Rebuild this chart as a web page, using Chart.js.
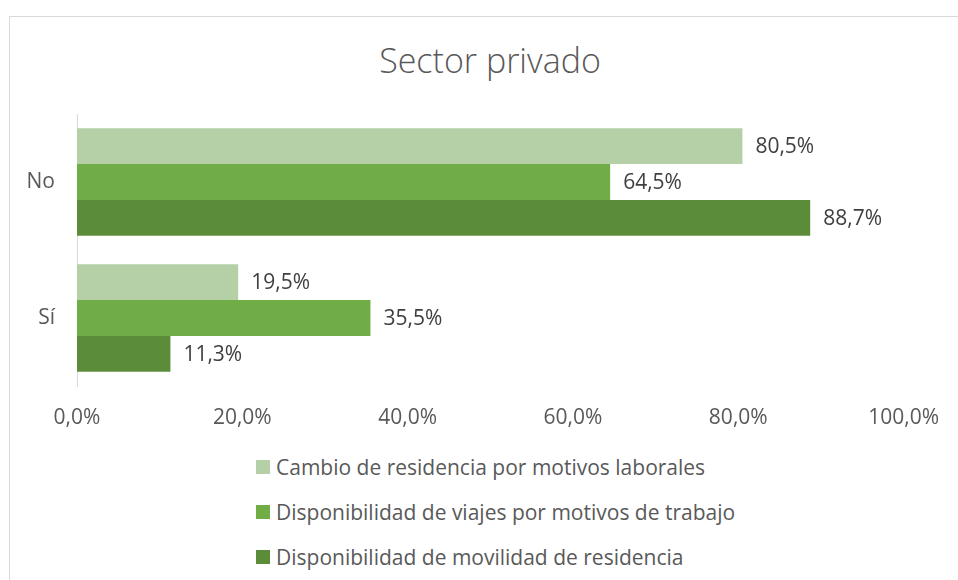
<!DOCTYPE html>
<html>
<head>
<meta charset="utf-8">
<script src="https://cdn.jsdelivr.net/npm/chart.js@4"></script>
<style>
    body { margin: 0; background: #fff; font-family: "Open Sans", sans-serif; }
    #frame { position: absolute; left: 9px; top: 16px; width: 960px; height: 580px; border: 1px solid #d9d9d9; }
    #title { position: absolute; left: 0; top: 40px; width: 980px; line-height: 40px; text-align: center;
             font-size: 34px; font-weight: 300; color: #595959; }
    #wrap { position: absolute; left: 0; top: 0; width: 958px; height: 440px; }
    #legend { position: absolute; left: 256px; top: 444px; margin: 0; padding: 0; list-style: none; }
    #legend li { display: flex; align-items: center; height: 45px; font-size: 21px; color: #595959; }
    #legend .box { width: 14px; height: 14px; margin-right: 6px; display: inline-block; }
</style>
</head>
<body>
<div id="frame"></div>
<div id="title">Sector privado</div>
<div id="wrap"><canvas id="privadoChart"></canvas></div>
<ul id="legend"></ul>
<script>
// Data
const categories = ['No', 'Sí'];
const seriesNames = [
    'Cambio de residencia por motivos laborales',
    'Disponibilidad de viajes por motivos de trabajo',
    'Disponibilidad de movilidad de residencia'
];
const cambioResidencia = [80.5, 19.5];
const viajesTrabajo = [64.5, 35.5];
const movilidadResidencia = [88.7, 11.3];
const seriesColors = ['#b5cfa6', '#70ad47', '#5b8c39'];
const tickValues = [0, 20, 40, 60, 80, 100];

const fmt = v => v.toFixed(1).replace('.', ',') + '%';

// value labels at the end of each bar
const barLabels = {
    id: 'barLabels',
    afterDatasetsDraw(chart) {
        const ctx = chart.ctx;
        ctx.save();
        ctx.font = '21px "Open Sans"';
        ctx.fillStyle = '#404040';
        ctx.textBaseline = 'middle';
        chart.data.datasets.forEach((ds, i) => {
            chart.getDatasetMeta(i).data.forEach((bar, j) => {
                ctx.fillText(fmt(ds.data[j]), bar.x + 13, bar.y + 1);
            });
        });
        ctx.restore();
    }
};

// html legend, one item per line
const htmlLegend = {
    id: 'htmlLegend',
    afterUpdate(chart) {
        const ul = document.getElementById('legend');
        ul.innerHTML = '';
        chart.data.datasets.forEach(ds => {
            const li = document.createElement('li');
            const box = document.createElement('span');
            box.className = 'box';
            box.style.background = ds.backgroundColor;
            li.appendChild(box);
            li.appendChild(document.createTextNode(ds.label));
            ul.appendChild(li);
        });
    }
};

const ctxPrivado = document.getElementById('privadoChart');
const privadoChart = new Chart(ctxPrivado, {
    type: 'bar',
    data: {
        labels: categories,
        datasets: [
            { label: seriesNames[0], data: cambioResidencia, backgroundColor: seriesColors[0] },
            { label: seriesNames[1], data: viajesTrabajo, backgroundColor: seriesColors[1] },
            { label: seriesNames[2], data: movilidadResidencia, backgroundColor: seriesColors[2] }
        ]
    },
    options: {
        indexAxis: 'y',
        responsive: true,
        maintainAspectRatio: false,
        animation: false,
        datasets: { bar: { categoryPercentage: 0.79, barPercentage: 1, borderWidth: 0 } },
        layout: { padding: { left: 0, right: 50, top: 114, bottom: 0 } },
        scales: {
            x: {
                min: 0,
                max: 100,
                afterBuildTicks: axis => { axis.ticks = tickValues.map(v => ({ value: v })); },
                afterFit: axis => { axis.height = 54; },
                grid: { display: false, drawTicks: false },
                border: { display: false },
                ticks: {
                    padding: 19,
                    color: '#595959',
                    font: { family: 'Open Sans', size: 21 },
                    callback: v => fmt(v)
                }
            },
            y: {
                afterFit: axis => { axis.width = 77; },
                grid: { display: false, drawTicks: false },
                border: { display: true, color: '#d9d9d9', width: 1 },
                ticks: {
                    padding: 22,
                    color: '#595959',
                    font: { family: 'Open Sans', size: 21 }
                }
            }
        },
        plugins: {
            legend: { display: false },
            tooltip: { enabled: false },
            title: { display: false }
        }
    },
    plugins: [barLabels, htmlLegend]
});
</script>
</body>
</html>
